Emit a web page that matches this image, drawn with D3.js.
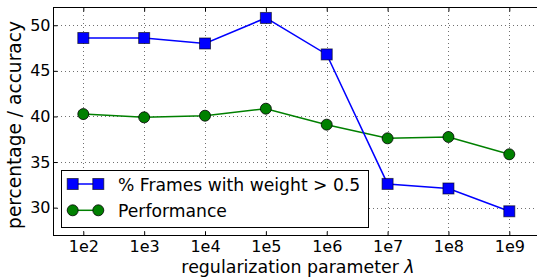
<!DOCTYPE html>
<html><head><meta charset="utf-8">
<script src="https://cdn.jsdelivr.net/npm/d3@7"></script>
<style>body{margin:0;background:#fff}svg{display:block}</style>
</head><body><svg id="c" width="537" height="280"></svg>
<script>
const categories = ["1e2","1e3","1e4","1e5","1e6","1e7","1e8","1e9"];
const framesPct = [48.6, 48.6, 48.0, 50.8, 46.8, 32.6, 32.1, 29.6];
const performance = [40.26, 39.9, 40.08, 40.85, 39.1, 37.6, 37.75, 35.85];
const yTicks = [30, 35, 40, 45, 50];
const seriesNames = ["% Frames with weight > 0.5", "Performance"];

const FONT = "DejaVu Sans";
const svg = d3.select("#c");
const L = 53, T = 7, B = 235, R = 559;
const x = d3.scaleLinear().domain([0, 7]).range([83.3, 509.3]);
const y = d3.scaleLinear().domain([27, 52]).range([B, T]);
const g = svg.append("g");

// grid
g.selectAll(".gx").data(categories).join("line")
  .attr("x1", (d,i)=>Math.round(x(i))+0.5).attr("x2", (d,i)=>Math.round(x(i))+0.5).attr("y1", T).attr("y2", B)
  .attr("stroke", "#000").attr("stroke-width", 0.8).attr("stroke-dasharray", "1,3").attr("opacity",0.7);
g.selectAll(".gy").data(yTicks).join("line")
  .attr("x1", L).attr("x2", R).attr("y1", d=>Math.round(y(d))+0.5).attr("y2", d=>Math.round(y(d))+0.5)
  .attr("stroke", "#000").attr("stroke-width", 0.8).attr("stroke-dasharray", "1,3").attr("opacity",0.7);

// axes via d3
const xAxis = d3.axisBottom(x).tickValues(d3.range(categories.length)).tickFormat(i=>categories[i]).tickSizeInner(-4).tickSizeOuter(0).tickPadding(5);
const gx = g.append("g").attr("transform", `translate(0,${B+0.5})`).call(xAxis);
gx.select(".domain").attr("d", `M${L},0H${R}`);
gx.selectAll("text").attr("font-size", 16).style("font-family", FONT).attr("fill","#000");
gx.selectAll(".tick line").attr("stroke","#000");
const xAxisTop = d3.axisTop(x).tickValues(d3.range(categories.length)).tickFormat("").tickSizeInner(-4).tickSizeOuter(0);
const gxt = g.append("g").attr("transform", `translate(0,${T+0.5})`).call(xAxisTop);
gxt.select(".domain").attr("d", `M${L},0H${R}`);

const yAxis = d3.axisLeft(y).tickValues(yTicks).tickSizeInner(-4).tickSizeOuter(0).tickPadding(3);
const gy = g.append("g").attr("transform", `translate(${L+0.5},0)`).call(yAxis);
gy.select(".domain").attr("d", `M0,${T}V${B}`);
gy.selectAll("text").attr("font-size", 16).style("font-family", FONT).attr("fill","#000");

// lines
const lineGen = d3.line().x((d,i)=>x(i)).y(d=>y(d));
g.append("path").datum(performance).attr("d", lineGen).attr("fill","none").attr("stroke","#008000").attr("stroke-width",1.5);
g.append("path").datum(framesPct).attr("d", lineGen).attr("fill","none").attr("stroke","#0000ff").attr("stroke-width",1.5);

g.selectAll(".pc").data(performance).join("circle")
  .attr("cx",(d,i)=>x(i)).attr("cy",d=>y(d)).attr("r",5.5)
  .attr("fill","#008000").attr("stroke","#000").attr("stroke-width",0.8);
g.selectAll(".fs").data(framesPct).join("rect")
  .attr("x",(d,i)=>x(i)-5.5).attr("y",d=>y(d)-5.5).attr("width",11).attr("height",11)
  .attr("fill","#0000ff").attr("stroke","#000").attr("stroke-opacity",0.6).attr("stroke-width",1);

// axis labels
const xl = svg.append("text").attr("x", 298).attr("y", 272.5).attr("text-anchor","middle").attr("font-size",17.4)
  .style("font-family", FONT).attr("fill","#000");
xl.append("tspan").text("regularization parameter ");
xl.append("tspan").attr("font-style","italic").text("λ");
svg.append("text").attr("transform","translate(21,125) rotate(-90)").attr("text-anchor","middle").attr("font-size",18.6)
  .style("font-family", FONT).attr("fill","#000").text("percentage / accuracy");

// legend
const lg = svg.append("g");
lg.append("rect").attr("x",61.5).attr("y",170.5).attr("width",307).attr("height",57).attr("fill","#fff").attr("stroke","#000").attr("stroke-width",1);
const rows = [{y:184, c:"#0000ff", m:"s"},{y:210.3, c:"#008000", m:"c"}];
rows.forEach((r,k)=>{
  lg.append("line").attr("x1",72.7).attr("x2",98.3).attr("y1",r.y).attr("y2",r.y).attr("stroke",r.c).attr("stroke-width",1.5);
  [72.7,98.3].forEach(cx=>{
    if(r.m==="s") lg.append("rect").attr("x",cx-5.5).attr("y",r.y-5.5).attr("width",11).attr("height",11).attr("fill",r.c).attr("stroke","#000").attr("stroke-opacity",0.6);
    else lg.append("circle").attr("cx",cx).attr("cy",r.y).attr("r",5.5).attr("fill",r.c).attr("stroke","#000").attr("stroke-width",0.8);
  });
  lg.append("text").attr("x",118).attr("y",r.y+6.8).attr("font-size",17.2).style("font-family", FONT).attr("fill","#000").text(seriesNames[k]);
});
</script></body></html>
